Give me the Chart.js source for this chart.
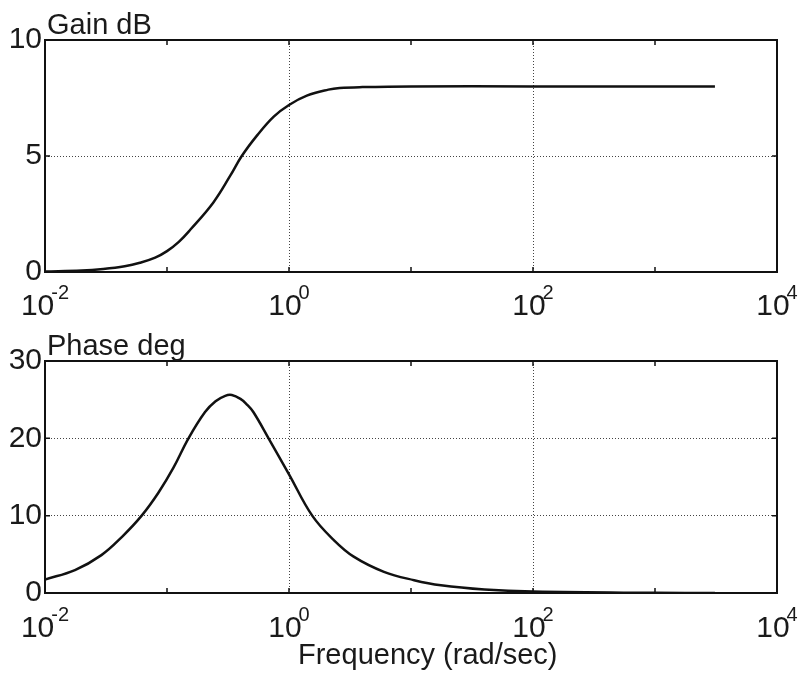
<!DOCTYPE html>
<html>
<head>
<meta charset="utf-8">
<script src="https://cdn.jsdelivr.net/npm/chart.js@4.4.1/dist/chart.umd.min.js"></script>
<style>
  html, body { margin: 0; padding: 0; background: #fff; }
  #wrap { position: relative; width: 799px; height: 677px; }
  .pane { position: absolute; left: 0; width: 799px; }
</style>
</head>
<body>
<div id="wrap">
  <div class="pane" style="top:0;height:320px;"><canvas id="gain"></canvas></div>
  <div class="pane" style="top:320px;height:357px;"><canvas id="phase"></canvas></div>
</div>
<script>
const FONT = '"Liberation Sans", Arial, sans-serif';
const INK = '#1a1a1a';

// frequency axis: one tick per decade, label on even decades
const decades = [0.01, 0.1, 1, 10, 100, 1000, 10000];
const decadeExps = ['-2', null, '0', null, '2', null, '4'];

// gain curve (dB)
const gainFreq = [0.01, 0.02, 0.03, 0.045, 0.06, 0.08, 0.1, 0.125, 0.155, 0.24, 0.33, 0.41, 0.55, 0.75, 1, 1.4, 2.1, 2.6, 4, 10, 100, 1000, 3100];
const gainDb   = [0.02, 0.06, 0.13, 0.25, 0.4, 0.62, 0.9, 1.3, 1.82, 3.0, 4.15, 5.0, 5.9, 6.7, 7.2, 7.6, 7.86, 7.93, 7.97, 8.0, 8.0, 8.0, 8.0];
const gainTicks = [0, 5, 10];

// phase curve (deg)
const phaseFreq = [0.01, 0.0176, 0.029, 0.043, 0.062, 0.085, 0.113, 0.15, 0.205, 0.25, 0.3, 0.34, 0.4, 0.45, 0.51, 0.68, 1, 1.55, 2.32, 3.39, 6, 10.6, 17.6, 40, 100, 1000, 3100];
const phaseDeg  = [1.75, 2.96, 4.9, 7.3, 10.0, 12.96, 16.2, 20.0, 23.4, 24.8, 25.5, 25.6, 25.1, 24.4, 23.4, 20.0, 15.35, 10.0, 6.87, 4.7, 2.74, 1.66, 1.0, 0.45, 0.18, 0.02, 0.01];
const phaseTicks = [0, 10, 20, 30];

// box, inward ticks, 10^n labels and titles, matlab style
const bodeFrame = {
    id: 'bodeFrame',
    afterDatasetsDraw(chart, args, opts) {
        const { ctx, chartArea: a, scales: { x, y } } = chart;
        ctx.save();
        ctx.strokeStyle = '#111';
        ctx.lineWidth = 1.5;
        ctx.beginPath();
        x.ticks.forEach(t => {
            const px = x.getPixelForValue(t.value);
            ctx.moveTo(px, a.bottom); ctx.lineTo(px, a.bottom - 5);
            ctx.moveTo(px, a.top);    ctx.lineTo(px, a.top + 5);
        });
        y.ticks.forEach(t => {
            const py = y.getPixelForValue(t.value);
            ctx.moveTo(a.left, py);  ctx.lineTo(a.left + 5, py);
            ctx.moveTo(a.right, py); ctx.lineTo(a.right - 5, py);
        });
        ctx.stroke();
        ctx.lineWidth = 2;
        ctx.strokeRect(a.left, a.top, a.right - a.left, a.bottom - a.top);

        ctx.fillStyle = INK;
        ctx.textBaseline = 'alphabetic';
        ctx.textAlign = 'left';
        x.ticks.forEach((t, i) => {
            const ex = decadeExps[i];
            if (ex === null) return;
            const px = x.getPixelForValue(t.value);
            ctx.font = '30px ' + FONT;
            const w1 = ctx.measureText('10').width;
            ctx.font = '20px ' + FONT;
            const w2 = ctx.measureText(ex).width;
            const x0 = px - (w1 + w2 - 3) / 2;
            ctx.font = '30px ' + FONT;
            ctx.fillText('10', x0, opts.labelY);
            ctx.font = '20px ' + FONT;
            ctx.fillText(ex, x0 + w1 - 3, opts.labelY - 16);
        });

        ctx.font = '29px ' + FONT;
        ctx.fillText(opts.title, a.left + 2, a.top - 6);
        if (opts.xTitle) ctx.fillText(opts.xTitle, 298, opts.xTitleY);
        ctx.restore();
    }
};

function freqAxis(height) {
    return {
        type: 'logarithmic',
        min: 0.01,
        max: 10000,
        afterBuildTicks: s => { s.ticks = decades.map(v => ({ value: v })); },
        afterFit: s => { s.height = height; s.paddingLeft = 0; s.paddingRight = 0; },
        ticks: { display: false },
        grid: {
            drawTicks: false,
            lineWidth: 1,
            color: c => (c.index === 2 || c.index === 4) ? '#444' : 'rgba(0,0,0,0)'
        },
        border: { display: false, dash: [1, 2] }
    };
}

function levelAxis(tickVals) {
    const top = tickVals[tickVals.length - 1];
    return {
        min: 0,
        max: top,
        afterBuildTicks: s => { s.ticks = tickVals.map(v => ({ value: v })); },
        afterFit: s => { s.width = 45; },
        ticks: { padding: 3, color: INK, font: { family: FONT, size: 30 } },
        grid: {
            drawTicks: false,
            lineWidth: 1,
            color: c => (c.tick && c.tick.value > 0 && c.tick.value < top) ? '#444' : 'rgba(0,0,0,0)'
        },
        border: { display: false, dash: [1, 2] }
    };
}

function bodeChart(id, freq, vals, yTicks, padTop, xHeight, frameOpts) {
    return new Chart(document.getElementById(id), {
        type: 'line',
        data: {
            datasets: [{
                data: freq.map((f, i) => ({ x: f, y: vals[i] })),
                borderColor: '#111',
                borderWidth: 2.5,
                pointRadius: 0,
                tension: 0.4,
                fill: false
            }]
        },
        options: {
            responsive: true,
            maintainAspectRatio: false,
            animation: false,
            layout: { padding: { top: padTop, right: 22, left: 0, bottom: 0 } },
            plugins: { legend: { display: false }, tooltip: { enabled: false }, bodeFrame: frameOpts },
            scales: { x: freqAxis(xHeight), y: levelAxis(yTicks) }
        },
        plugins: [bodeFrame]
    });
}

bodeChart('gain', gainFreq, gainDb, gainTicks, 40, 48, { title: 'Gain dB', labelY: 315 });
bodeChart('phase', phaseFreq, phaseDeg, phaseTicks, 41, 84,
    { title: 'Phase deg', labelY: 317, xTitle: 'Frequency (rad/sec)', xTitleY: 344 });
</script>
</body>
</html>
